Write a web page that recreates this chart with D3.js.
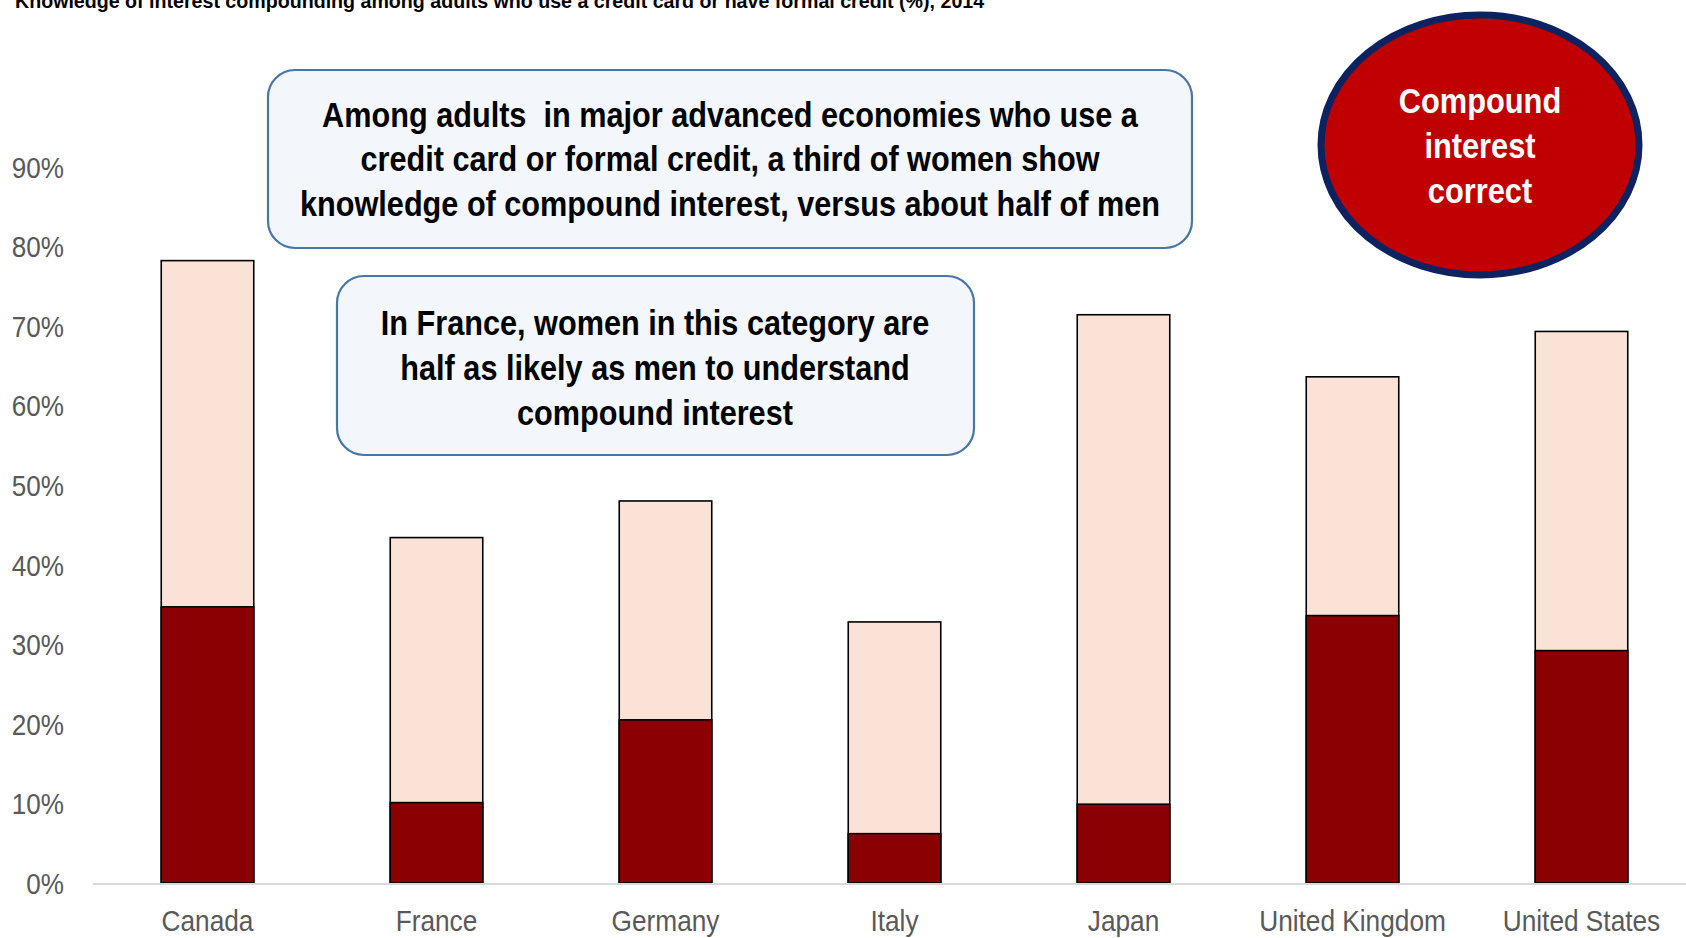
<!DOCTYPE html>
<html>
<head>
<meta charset="utf-8">
<script src="https://cdn.jsdelivr.net/npm/d3@7"></script>
<style>
  html, body { margin: 0; padding: 0; background: #ffffff; overflow: hidden; }
  svg { display: block; }
</style>
</head>
<body>
<svg id="chart" width="1686" height="938"></svg>
<script>
// ---- Data ----
const title = "Knowledge of interest compounding among adults who use a credit card or have formal credit (%), 2014";
const categories = ["Canada", "France", "Germany", "Italy", "Japan", "United Kingdom", "United States"];
const menValues   = [0.782, 0.434, 0.480, 0.328, 0.714, 0.636, 0.693];
const womenValues = [0.347, 0.101, 0.205, 0.062, 0.099, 0.336, 0.292];
const yTicks = [0, 0.1, 0.2, 0.3, 0.4, 0.5, 0.6, 0.7, 0.8, 0.9];
const note1 = ["Among adults  in major advanced economies who use a",
               "credit card or formal credit, a third of women show",
               "knowledge of compound interest, versus about half of men"];
const note2 = ["In France, women in this category are",
               "half as likely as men to understand",
               "compound interest"];
const badge = ["Compound", "interest", "correct"];

// ---- Setup ----
const svg = d3.select("#chart");
const font = "'Liberation Sans', Arial, sans-serif";

// condense text horizontally around its anchor x (reference uses a narrow face)
function squeeze(sel, sx) {
  sel.each(function() {
    const t = d3.select(this);
    const x0 = +t.attr("x") || 0;
    t.attr("transform", `translate(${x0},0) scale(${sx},1) translate(${-x0},0)`);
  });
}

const x = d3.scaleBand().domain(categories).range([93, 1696])
  .paddingInner(0.596).paddingOuter(0.298);
const y = d3.scaleLinear().domain([0, 0.9]).range([883, 166.7]);

// Title (clipped at top like the reference)
svg.append("text")
  .attr("x", 15).attr("y", 8)
  .attr("font-family", font).attr("font-weight", "bold")
  .attr("font-size", 21).attr("fill", "#000")
  .text(title)
  .call(squeeze, 0.935);

// Y axis (labels only)
const yAxis = d3.axisLeft(y).tickValues(yTicks).tickFormat(d3.format(".0%")).tickSize(0).tickPadding(0);
const gy = svg.append("g").attr("transform", "translate(64,0)").call(yAxis);
gy.select(".domain").remove();
gy.selectAll("text")
  .attr("font-family", font).attr("font-size", 29).attr("fill", "#595959")
  .attr("dy", "0.36em")
  .call(squeeze, 0.9);

// X axis
const xAxis = d3.axisBottom(x).tickSize(0).tickPadding(0);
const gx = svg.append("g").attr("transform", "translate(0,883)").call(xAxis);
gx.select(".domain").remove();
gx.selectAll("text")
  .attr("font-family", font).attr("font-size", 29).attr("fill", "#595959")
  .attr("dy", null).attr("y", 48)
  .call(squeeze, 0.905);

// Bars: men (light, behind) and women (dark, front)
svg.append("g").selectAll("rect")
  .data(categories.map((c, i) => ({c, v: menValues[i]})))
  .join("rect")
  .attr("x", d => x(d.c)).attr("width", x.bandwidth())
  .attr("y", d => y(d.v)).attr("height", d => y(0) - y(d.v))
  .attr("fill", "#FAE3D6").attr("stroke", "#000").attr("stroke-width", 1.6);

svg.append("g").selectAll("rect")
  .data(categories.map((c, i) => ({c, v: womenValues[i]})))
  .join("rect")
  .attr("x", d => x(d.c)).attr("width", x.bandwidth())
  .attr("y", d => y(d.v)).attr("height", d => y(0) - y(d.v))
  .attr("fill", "#8B0000").attr("stroke", "#000").attr("stroke-width", 1.6);

// Baseline axis line
svg.append("line")
  .attr("x1", 93).attr("x2", 1686).attr("y1", y(0) + 1).attr("y2", y(0) + 1)
  .attr("stroke", "#D9D9D9").attr("stroke-width", 2);

// Annotation boxes
function noteBox(x0, y0, w, h, lines, cx, firstBase, lineGap) {
  svg.append("rect")
    .attr("x", x0).attr("y", y0).attr("width", w).attr("height", h)
    .attr("rx", 27).attr("ry", 27)
    .attr("fill", "#F3F7FC").attr("stroke", "#4A76A6").attr("stroke-width", 2.2);
  svg.append("g").selectAll("text").data(lines).join("text")
    .attr("x", cx).attr("y", (d, i) => firstBase + i * lineGap)
    .attr("text-anchor", "middle")
    .attr("font-family", font).attr("font-weight", "bold")
    .attr("font-size", 35).attr("fill", "#000")
    .style("white-space", "pre")
    .text(d => d)
    .call(squeeze, 0.876);
}
noteBox(268, 70, 924, 178, note1, 730, 127, 44.5);
noteBox(337, 276, 637, 179, note2, 655, 335, 45);

// Badge ellipse
svg.append("ellipse")
  .attr("cx", 1480).attr("cy", 145).attr("rx", 159).attr("ry", 130)
  .attr("fill", "#C00000").attr("stroke", "#0D2260").attr("stroke-width", 7);
svg.append("g").selectAll("text").data(badge).join("text")
  .attr("x", 1480).attr("y", (d, i) => 113 + i * 45)
  .attr("text-anchor", "middle")
  .attr("font-family", font).attr("font-weight", "bold")
  .attr("font-size", 35).attr("fill", "#fff")
  .text(d => d)
  .call(squeeze, 0.88);
</script>
</body>
</html>
